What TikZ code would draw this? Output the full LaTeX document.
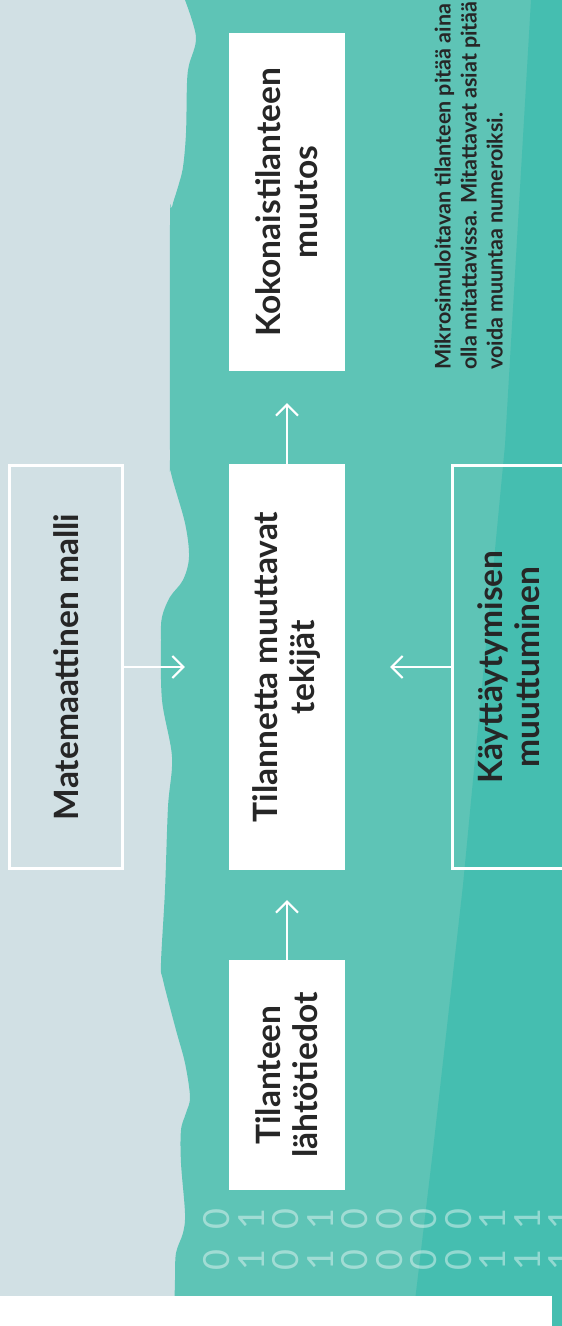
\documentclass[tikz,border=0pt]{standalone}
\usepackage{fontspec}
\setmainfont{Lato}
\usetikzlibrary{arrows.meta}
\definecolor{greyBlue}{HTML}{D1E0E4}
\definecolor{tealLight}{HTML}{5EC4B6}
\definecolor{tealDark}{HTML}{45BEB0}
\colorlet{inkGrey}{black!85}

\begin{document}
\begin{tikzpicture}[x = 1pt, y = -1pt,
	fullbox/.style = {fill = white, rotate = 90, minimum height = 116pt, inner sep = 0pt, align = center, text = inkGrey, font = \bfseries\fontsize{33.5}{37}\selectfont},
	openbox/.style = {draw = white, line width = 3pt, rotate = 90, minimum height = 113pt, minimum width = 403pt, inner sep = 0pt, align = center, text = inkGrey, font = \bfseries\fontsize{33.5}{37}\selectfont},
	flow/.style = {white, line width = 2pt, -{Straight Barb[length = 11pt, width = 22pt]}},
	bit/.style = {rotate = 90, white, text opacity = 0.42, inner sep = 0pt, font = \fontsize{36}{36}\selectfont}]
		\useasboundingbox (0, 0) rectangle (562, 1326);
		%%%%%%%%%%%%%
		\fill [greyBlue] (0, 0) rectangle (562, 1296);
		\fill [tealLight] (562, 0) -- plot [smooth, tension = 0.55] coordinates {(185, 0) (196, 37) (189, 65) (187, 83) (186, 133) (183, 167) (178, 187) (172, 207) (170, 225) (170, 450) (171, 473) (185, 523) (189, 557) (183, 580) (170, 597) (162, 617) (161, 640) (162, 700) (172, 757) (168, 807) (165, 890) (161, 963) (163, 980) (176, 1030) (185, 1063) (190, 1097) (186, 1113) (181, 1130) (181, 1163) (185, 1213) (183, 1233) (176, 1253) (175, 1280) (174, 1326)} -- (562, 1326) -- cycle;
		\fill [tealDark] (531, 0) -- (505, 445) -- (463, 885) -- (433, 1150) -- (412, 1326) -- (562, 1326) -- (562, 0) -- cycle;
		\foreach \d [count = \i from 0] in {0, 1, 0, 1, 0, 0, 0, 0, 1, 1, 1} {
			\node [bit] (bit\i a) at (217 + 34.5*\i, 1219) {\d};
			\node [bit] (bit\i b) at (217 + 34.5*\i, 1260) {\d};
		}
		\fill [white] (0, 1296) rectangle (552, 1326);
		%%%%%%%%%%%%%
		\node [fullbox, minimum width = 338pt] (muutos) at (287, 202) {Kokonaistilanteen\\muutos};
		\node [fullbox, minimum width = 406pt] (tekijat) at (287, 667) {Tilannetta muuttavat\\tekijät};
		\node [fullbox, minimum width = 230pt] (lahto) at (287, 1075) {Tilanteen\\lähtötiedot};
		\node [openbox] (malli) at (66, 667) {Matemaattinen malli};
		\node [openbox] (kaytos) at (509, 667) {Käyttäytymisen\\muuttuminen};
		\node [rotate = 90, anchor = north west, inner sep = 0pt, align = left, text = inkGrey, font = \bfseries\fontsize{21.5}{26}\selectfont] (note) at (434.5, 370) {Mikrosimuloitavan tilanteen pitää aina\\olla mitattavissa. Mitattavat asiat pitää\\voida muuntaa numeroiksi.};
		%%%%%%%%%%%%%
		\draw [flow, shorten > = 30pt] (lahto.east) -- (tekijat.west);
		\draw [flow, shorten > = 32pt] (tekijat.east) -- (muutos.west);
		\draw [flow, shorten > = 44pt] (malli.south) -- (tekijat.north);
		\draw [flow, shorten > = 45pt] (kaytos.north) -- (tekijat.south);
\end{tikzpicture}
\end{document}
